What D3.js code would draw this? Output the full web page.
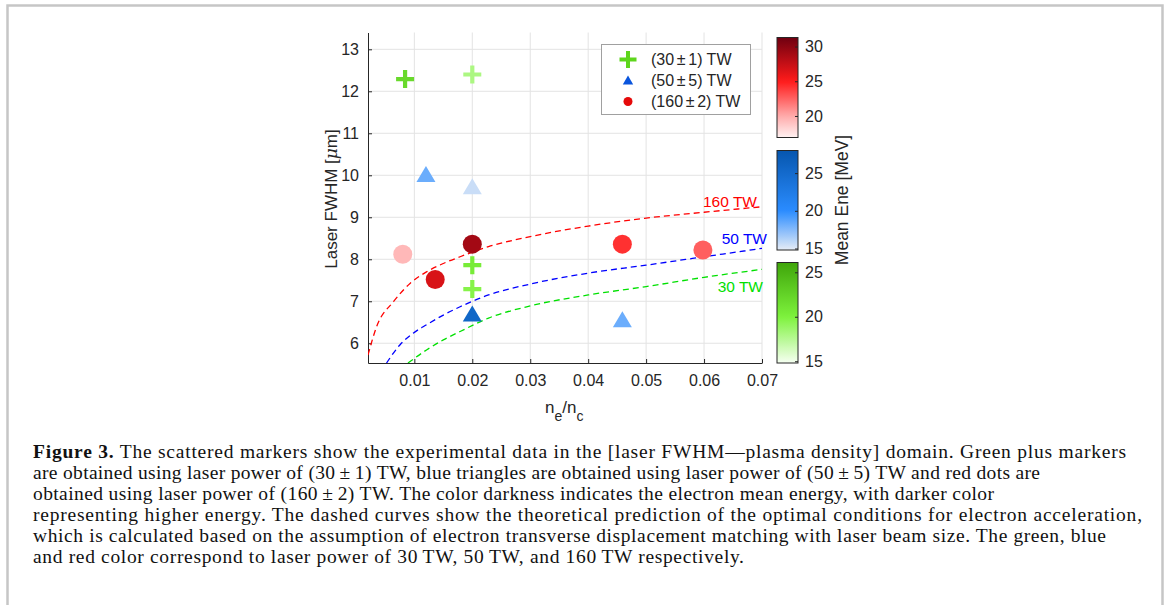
<!DOCTYPE html>
<html>
<head>
<meta charset="utf-8">
<script src="https://cdn.jsdelivr.net/npm/d3@7"></script>
<style>
  body { margin: 0; background: #fff; }
  text { font-family: "Liberation Sans", Arial, sans-serif; fill: #262626; }
  .caption { font-family: "Liberation Serif", "Times New Roman", serif; fill: #111; }
</style>
</head>
<body>
<div id="chart"></div>
<script>
// Axis Ticks
const xTicks = [0.01, 0.02, 0.03, 0.04, 0.05, 0.06, 0.07];
const yTicks = [6, 7, 8, 9, 10, 11, 12, 13];

// Scatter Data: [n_e/n_c, FWHM, mean energy]
const tw30 = [[0.0084, 12.29, 22.0], [0.02, 12.4, 18.0], [0.02, 7.86, 20.5], [0.02, 7.29, 19.6]];
const tw50 = [[0.012, 10.03, 18.2], [0.02, 9.74, 15.6], [0.02, 6.71, 25.5], [0.0459, 6.57, 18.2]];
const tw160 = [[0.008, 8.12, 19.4], [0.0136, 7.52, 26.7], [0.02, 8.36, 29.0], [0.0459, 8.36, 24.2], [0.0598, 8.22, 22.6]];

// Theory Curves
const curve160 = [[0.002, 5.72], [0.0035, 6.40], [0.0064, 6.99], [0.0093, 7.43], [0.0121, 7.70], [0.015, 7.90], [0.0179, 8.06], [0.0228, 8.30], [0.03, 8.54], [0.04, 8.79], [0.05, 8.98], [0.06, 9.12], [0.07, 9.25]];
const curve50 = [[0.0052, 5.53], [0.0075, 5.96], [0.0098, 6.24], [0.0121, 6.44], [0.015, 6.67], [0.0179, 6.87], [0.0228, 7.15], [0.03, 7.41], [0.04, 7.67], [0.05, 7.86], [0.06, 8.06], [0.07, 8.26]];
const curve30 = [[0.0089, 5.53], [0.0121, 5.84], [0.015, 6.08], [0.0179, 6.28], [0.0228, 6.60], [0.03, 6.89], [0.04, 7.15], [0.05, 7.35], [0.06, 7.57], [0.07, 7.76]];

// Colorbars
const redTicks = [20, 25, 30], blueTicks = [15, 20, 25], greenTicks = [15, 20, 25];
const redDomain = [16.9, 20, 25, 31.3], blueDomain = [14.8, 20, 28], greenDomain = [14.8, 20, 26.1];

// Legend
const legendLabels = ["(30\u2006\u00b1\u20061) TW", "(50\u2006\u00b1\u20065) TW", "(160\u2006\u00b1\u20062) TW"];

// Caption
const captionLines = [
  "The scattered markers show the experimental data in the [laser FWHM\u2014plasma density] domain. Green plus markers",
  "are obtained using laser power of (30\u2009\u00b1\u20091) TW, blue triangles are obtained using laser power of (50\u2009\u00b1\u20095) TW and red dots are",
  "obtained using laser power of (160\u2009\u00b1\u20092) TW. The color darkness indicates the electron mean energy, with darker color",
  "representing higher energy. The dashed curves show the theoretical prediction of the optimal conditions for electron acceleration,",
  "which is calculated based on the assumption of electron transverse displacement matching with laser beam size. The green, blue",
  "and red color correspond to laser power of 30\u2009TW, 50\u2009TW, and 160\u2009TW respectively."
];
const captionEnds = [1126, 1040, 994, 1142, 1106, 744];

// Dimensions
let w = 1167, h = 605;
let pLeft = 368, pRight = 762, pTop = 32.5, pBottom = 363;

let svg = d3.select("#chart").append("svg").attr("width", w).attr("height", h);

// Frame
svg.append("rect").attr("x", 7.5).attr("y", 5.5).attr("width", 1155).attr("height", 640)
  .attr("fill", "none").attr("stroke", "#c6c6c6").attr("stroke-width", 2.5);

// Scales
let xScale = d3.scaleLinear().domain([0.002, 0.07]).range([pLeft, pRight]);
let yScale = d3.scaleLinear().domain([5.53, 13.4]).range([pBottom, pTop]);

let redScale = d3.scaleLinear().domain(redDomain).range(["#fff2f2", "#ffaaaa", "#ff1a1a", "#6e0010"]);
let blueScale = d3.scaleLinear().domain(blueDomain).range(["#e6ecf6", "#2a8cff", "#0656ae"]);
let greenScale = d3.scaleLinear().domain(greenDomain).range(["#f6fff2", "#7df23c", "#3fa50a"]);

// Grid
svg.append("g").selectAll("line").data(xTicks).join("line")
  .attr("x1", (d) => xScale(d)).attr("x2", (d) => xScale(d)).attr("y1", pTop).attr("y2", pBottom)
  .attr("stroke", "#e3e3e3");
svg.append("g").selectAll("line").data(yTicks).join("line")
  .attr("x1", pLeft).attr("x2", pRight).attr("y1", (d) => yScale(d)).attr("y2", (d) => yScale(d))
  .attr("stroke", "#e3e3e3");

// Axes
let xAxis = d3.axisBottom(xScale).tickValues(xTicks).tickSizeInner(-4).tickSizeOuter(0).tickPadding(12).tickFormat(d3.format(".2f"));
let yAxis = d3.axisLeft(yScale).tickValues(yTicks).tickSizeInner(-4).tickSizeOuter(0).tickPadding(9);
let gx = svg.append("g").attr("transform", "translate(0, " + pBottom + ")").call(xAxis);
let gy = svg.append("g").attr("transform", "translate(" + pLeft + ", 0)").call(yAxis);
[gx, gy].forEach((g) => {
  g.select(".domain").attr("stroke", "#262626");
  g.selectAll(".tick line").attr("stroke", "#262626");
  g.selectAll(".tick text").attr("font-size", 16).attr("fill", "#262626").attr("font-family", "Liberation Sans, Arial, sans-serif");
});

// Axis Labels
let yl = svg.append("text").attr("transform", "translate(337, 199) rotate(-90)").attr("text-anchor", "middle").attr("font-size", 17);
yl.append("tspan").text("Laser FWHM [");
yl.append("tspan").text("\u03bc").attr("font-style", "italic").attr("font-family", "DejaVu Serif, serif");
yl.append("tspan").text("m]");

let xl = svg.append("text").attr("x", 545).attr("y", 413).attr("font-size", 17);
xl.append("tspan").text("n");
xl.append("tspan").text("e").attr("dy", 8).attr("font-size", 14);
xl.append("tspan").text("/n").attr("dy", -8);
xl.append("tspan").text("c").attr("dy", 8).attr("font-size", 14);

// Theory Curves
svg.append("clipPath").attr("id", "plotClip").append("rect")
  .attr("x", pLeft).attr("y", pTop).attr("width", pRight - pLeft).attr("height", pBottom - pTop);
let line = d3.line().x((d) => xScale(d[0])).y((d) => yScale(d[1])).curve(d3.curveMonotoneX);
[[curve160, "#ff0000"], [curve50, "#0000ff"], [curve30, "#00e000"]].forEach(([c, col]) => {
  svg.append("path").datum(c).attr("d", line).attr("clip-path", "url(#plotClip)")
    .attr("fill", "none").attr("stroke", col).attr("stroke-width", 1.3).attr("stroke-dasharray", "6,4");
});

// Curve Labels
svg.append("text").text("160 TW").attr("x", 757).attr("y", 207).attr("text-anchor", "end").attr("font-size", 15.5).style("fill", "#ff0000");
svg.append("text").text("50 TW").attr("x", 767).attr("y", 244).attr("text-anchor", "end").attr("font-size", 15.5).style("fill", "#0000ff");
svg.append("text").text("30 TW").attr("x", 763).attr("y", 292).attr("text-anchor", "end").attr("font-size", 15.5).style("fill", "#00e000");

// Markers
svg.append("g").selectAll("circle").data(tw160).join("circle")
  .attr("cx", (d) => xScale(d[0])).attr("cy", (d) => yScale(d[1])).attr("r", 9.5)
  .attr("fill", (d) => redScale(d[2]));
svg.append("g").selectAll("path").data(tw50).join("path")
  .attr("transform", (d) => "translate(" + xScale(d[0]) + "," + yScale(d[1]) + ")")
  .attr("d", "M0,-8L9.5,8L-9.5,8Z").attr("fill", (d) => blueScale(d[2]));
svg.append("g").selectAll("path").data(tw30).join("path")
  .attr("transform", (d) => "translate(" + xScale(d[0]) + "," + yScale(d[1]) + ")")
  .attr("d", "M-9,0H9M0,-9V9").attr("stroke", (d) => greenScale(d[2])).attr("stroke-width", 4.2).attr("fill", "none");

// Legend
svg.append("rect").attr("x", 601.5).attr("y", 44.5).attr("width", 149).attr("height", 70)
  .attr("fill", "#fff").attr("stroke", "#a0a0a0");
let ly = [59.5, 80, 101.5];
svg.append("path").attr("transform", "translate(628," + ly[0] + ")").attr("d", "M-8.5,0H8.5M0,-8.5V8.5")
  .attr("stroke", "#5ed61c").attr("stroke-width", 4).attr("fill", "none");
svg.append("path").attr("transform", "translate(628," + ly[1] + ")").attr("d", "M0,-4.5L5.2,4.5L-5.2,4.5Z").attr("fill", "#0a55dd");
svg.append("circle").attr("cx", 628).attr("cy", ly[2]).attr("r", 4.5).attr("fill", "#e50a0a");
svg.append("g").selectAll("text").data(legendLabels).join("text")
  .attr("x", 651).attr("y", (d, i) => ly[i] + 5.5).attr("font-size", 16).text((d) => d);

// Colorbars
let defs = svg.append("defs");
let cbX = 777, cbW = 21;
function colorbar(id, scale, domain, ticks, y0, y1) {
  let grad = defs.append("linearGradient").attr("id", id).attr("x1", 0).attr("y1", 1).attr("x2", 0).attr("y2", 0);
  d3.range(0, 1.0001, 0.05).forEach((t) => {
    let v = domain[0] + t * (domain[domain.length - 1] - domain[0]);
    grad.append("stop").attr("offset", t).attr("stop-color", scale(v));
  });
  svg.append("rect").attr("x", cbX).attr("y", y0).attr("width", cbW).attr("height", y1 - y0)
    .attr("fill", "url(#" + id + ")").attr("stroke", "#262626").attr("stroke-width", 1);
  let cScale = d3.scaleLinear().domain([domain[0], domain[domain.length - 1]]).range([y1, y0]);
  let ax = d3.axisRight(cScale).tickValues(ticks).tickSizeInner(-3).tickSizeOuter(0).tickPadding(7);
  let g = svg.append("g").attr("transform", "translate(" + (cbX + cbW) + ",0)").call(ax);
  g.select(".domain").remove();
  g.selectAll(".tick line").attr("stroke", "#262626");
  g.selectAll(".tick text").attr("font-size", 16).attr("fill", "#262626").attr("font-family", "Liberation Sans, Arial, sans-serif");
}
colorbar("gRed", redScale, redDomain, redTicks, 37.5, 137.5);
colorbar("gBlue", blueScale, blueDomain, blueTicks, 150.5, 250);
colorbar("gGreen", greenScale, greenDomain, greenTicks, 262.5, 363);

svg.append("text").text("Mean Ene [MeV]").attr("transform", "translate(848, 200) rotate(-90)")
  .attr("text-anchor", "middle").attr("font-size", 17.5);

// Caption
let cap = svg.append("g");
captionLines.forEach((t, i) => {
  let tx = cap.append("text").attr("class", "caption").attr("x", 33).attr("y", 458 + i * 21)
    .attr("font-size", 19.5).attr("textLength", captionEnds[i] - 33).attr("lengthAdjust", "spacing");
  if (i == 0) tx.append("tspan").text("Figure 3.").attr("font-weight", "bold");
  tx.append("tspan").text((i == 0 ? " " : "") + t);
});
</script>
</body>
</html>
